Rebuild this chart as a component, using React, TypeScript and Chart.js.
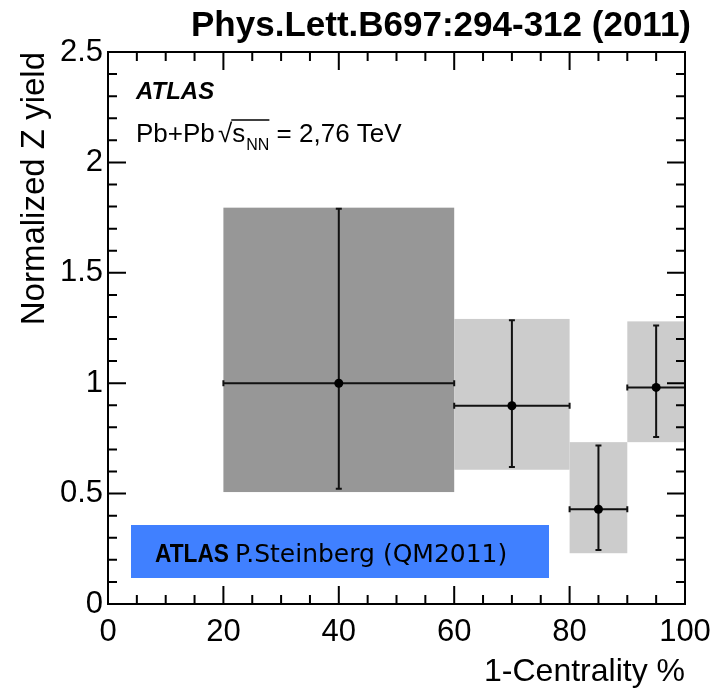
import React, { useEffect, useRef } from 'react';
import { Chart, registerables } from 'chart.js';

Chart.register(...registerables);

// ---- data ----
const centrality = [40, 70, 85, 95];
const binLow = [20, 60, 80, 90];
const binHigh = [60, 80, 90, 100];
const zYield = [1.0, 0.898, 0.429, 0.981];
const statLow = [0.522, 0.62, 0.245, 0.756];
const statHigh = [1.79, 1.285, 0.718, 1.261];
const sysLow = [0.507, 0.608, 0.23, 0.733];
const sysHigh = [1.795, 1.291, 0.733, 1.28];
const sysColors = ['#979797', '#cccccc', '#cccccc', '#cccccc'];
const xTicks = [0, 20, 40, 60, 80, 100];
const xTickLabels = ['0', '20', '40', '60', '80', '100'];
const yTicks = [0, 0.5, 1, 1.5, 2, 2.5];
const yTickLabels = ['0', '0.5', '1', '1.5', '2', '2.5'];

// ---- text ----
const chartTitle = 'Phys.Lett.B697:294-312 (2011)';
const xTitle = '1-Centrality %';
const yTitle = 'Normalized Z yield';
const expLabel = 'ATLAS';
const sysPrefix = 'Pb+Pb ';
const sysSuffix = ' = 2,76 TeV';
const creditBold = 'ATLAS';
const creditText = 'P.Steinberg (QM2011)';

const FONT = '"Liberation Sans", Arial, Helvetica, sans-serif';

const hepPlugin = {
  id: 'hepPlugin',
  beforeDatasetsDraw(chart: any) {
    const { ctx, scales } = chart;
    const xs = scales.x;
    const ys = scales.y;
    ctx.save();
    // systematic boxes
    for (let i = 0; i < centrality.length; i++) {
      const x0 = xs.getPixelForValue(binLow[i]);
      const x1 = xs.getPixelForValue(binHigh[i]);
      const y0 = ys.getPixelForValue(sysHigh[i]);
      const y1 = ys.getPixelForValue(sysLow[i]);
      ctx.fillStyle = sysColors[i];
      ctx.fillRect(x0, y0, x1 - x0, y1 - y0);
    }
    // error bars
    ctx.strokeStyle = '#111';
    ctx.lineWidth = 2;
    const cap = 3;
    for (let i = 0; i < centrality.length; i++) {
      const xc = xs.getPixelForValue(centrality[i]);
      const yc = ys.getPixelForValue(zYield[i]);
      const xl = xs.getPixelForValue(binLow[i]);
      const xh = xs.getPixelForValue(binHigh[i]);
      const yl = ys.getPixelForValue(statLow[i]);
      const yh = ys.getPixelForValue(statHigh[i]);
      ctx.beginPath();
      ctx.moveTo(xl, yc);
      ctx.lineTo(xh, yc);
      ctx.moveTo(xc, yl);
      ctx.lineTo(xc, yh);
      // caps
      ctx.moveTo(xl, yc - cap);
      ctx.lineTo(xl, yc + cap);
      ctx.moveTo(xh, yc - cap);
      ctx.lineTo(xh, yc + cap);
      ctx.moveTo(xc - cap, yl);
      ctx.lineTo(xc + cap, yl);
      ctx.moveTo(xc - cap, yh);
      ctx.lineTo(xc + cap, yh);
      ctx.stroke();
    }
    ctx.restore();
  },
  afterDatasetsDraw(chart: any) {
    const { ctx, scales, chartArea } = chart;
    const xs = scales.x;
    const ys = scales.y;
    const { left, right, top, bottom } = chartArea;
    ctx.save();
    ctx.strokeStyle = '#000';
    ctx.lineWidth = 2;
    ctx.strokeRect(left, top, right - left, bottom - top);
    ctx.beginPath();
    // x ticks every 5, major every 20
    for (let i = 0; i <= 20; i++) {
      const v = i * 5;
      const len = v % 20 === 0 ? 18 : 9;
      const px = xs.getPixelForValue(v);
      ctx.moveTo(px, bottom);
      ctx.lineTo(px, bottom - len);
      ctx.moveTo(px, top);
      ctx.lineTo(px, top + len);
    }
    // y ticks every 0.1, major every 0.5
    for (let i = 0; i <= 25; i++) {
      const v = i / 10;
      const len = i % 5 === 0 ? 18 : 9;
      const py = ys.getPixelForValue(v);
      ctx.moveTo(left, py);
      ctx.lineTo(left + len, py);
      ctx.moveTo(right, py);
      ctx.lineTo(right - len, py);
    }
    ctx.stroke();
    ctx.restore();
  },
  afterDraw(chart: any) {
    const { ctx } = chart;
    ctx.save();
    ctx.fillStyle = '#000';
    ctx.textBaseline = 'alphabetic';

    // publication title
    ctx.font = `bold 35px ${FONT}`;
    ctx.textAlign = 'right';
    ctx.fillText(chartTitle, 691, 36);

    // ATLAS label
    ctx.textAlign = 'left';
    ctx.font = `italic bold 24px ${FONT}`;
    ctx.fillText(expLabel, 136, 99);

    // Pb+Pb sqrt(s_NN) = 2,76 TeV
    const base = 142;
    let x = 136;
    ctx.font = `26px ${FONT}`;
    ctx.fillText(sysPrefix, x, base);
    x += ctx.measureText(sysPrefix).width - 4;
    ctx.fillText('\u221A', x, base);
    const sqrtEnd = x + ctx.measureText('\u221A').width;
    x = sqrtEnd;
    ctx.fillText('s', x, base);
    x += ctx.measureText('s').width + 1;
    ctx.font = `16px ${FONT}`;
    ctx.fillText('NN', x, base + 8);
    x += ctx.measureText('NN').width;
    ctx.strokeStyle = '#000';
    ctx.lineWidth = 1.5;
    ctx.beginPath();
    ctx.moveTo(sqrtEnd - 1, base - 22);
    ctx.lineTo(x, base - 22);
    ctx.stroke();
    ctx.font = `26px ${FONT}`;
    ctx.fillText(sysSuffix, x, base);

    // credit box
    ctx.fillStyle = '#4080ff';
    ctx.fillRect(131, 525, 418, 53);
    ctx.fillStyle = '#000';
    ctx.font = `bold 25px ${FONT}`;
    ctx.fillText(creditBold, 155, 562, 74);
    ctx.font = `25px "DejaVu Sans", sans-serif`;
    ctx.fillText(creditText, 235, 562);
    ctx.restore();
  },
};

export default function App() {
  const ref = useRef<HTMLCanvasElement | null>(null);

  useEffect(() => {
    document.body.style.margin = '0';
    const canvas = ref.current;
    if (!canvas) return;
    const chart = new Chart(canvas, {
      type: 'scatter',
      data: {
        datasets: [
          {
            data: centrality.map((x, i) => ({ x, y: zYield[i] })),
            pointRadius: 4.5,
            pointHoverRadius: 4.5,
            backgroundColor: '#000',
            borderColor: '#000',
            borderWidth: 0,
          },
        ],
      },
      options: {
        responsive: false,
        devicePixelRatio: 1,
        animation: false,
        events: [],
        layout: { padding: { left: 0, top: 52, right: 37, bottom: 0 } },
        plugins: {
          legend: { display: false },
          tooltip: { enabled: false },
          title: { display: false },
        },
        scales: {
          x: {
            type: 'linear',
            position: 'bottom',
            min: 0,
            max: 100,
            afterBuildTicks: (s: any) => {
              s.ticks = xTicks.map((v) => ({ value: v }));
            },
            afterFit: (s: any) => {
              s.height = 84;
            },
            ticks: {
              color: '#000',
              font: { family: FONT, size: 31 },
              padding: 10,
              maxRotation: 0,
              autoSkip: false,
              callback: (_v: any, i: number) => xTickLabels[i],
            },
            grid: { display: false, drawTicks: false },
            border: { display: false },
            title: {
              display: true,
              text: xTitle,
              align: 'end',
              color: '#000',
              font: { family: FONT, size: 32, lineHeight: 1 },
              padding: { top: 0, bottom: 0 },
            },
          },
          y: {
            type: 'linear',
            position: 'left',
            min: 0,
            max: 2.5,
            afterBuildTicks: (s: any) => {
              s.ticks = yTicks.map((v) => ({ value: v }));
            },
            afterFit: (s: any) => {
              s.width = 108;
            },
            ticks: {
              color: '#000',
              font: { family: FONT, size: 31 },
              padding: 5,
              autoSkip: false,
              callback: (_v: any, i: number) => yTickLabels[i],
            },
            grid: { display: false, drawTicks: false },
            border: { display: false },
            title: {
              display: true,
              text: yTitle,
              align: 'end',
              color: '#000',
              font: { family: FONT, size: 33, lineHeight: 1 },
              padding: { top: 18, bottom: 0 },
            },
          },
        },
      },
      plugins: [hepPlugin],
    } as any);
    return () => chart.destroy();
  }, []);

  return <canvas ref={ref} width={722} height={688} style={{ display: 'block' }} />;
}
